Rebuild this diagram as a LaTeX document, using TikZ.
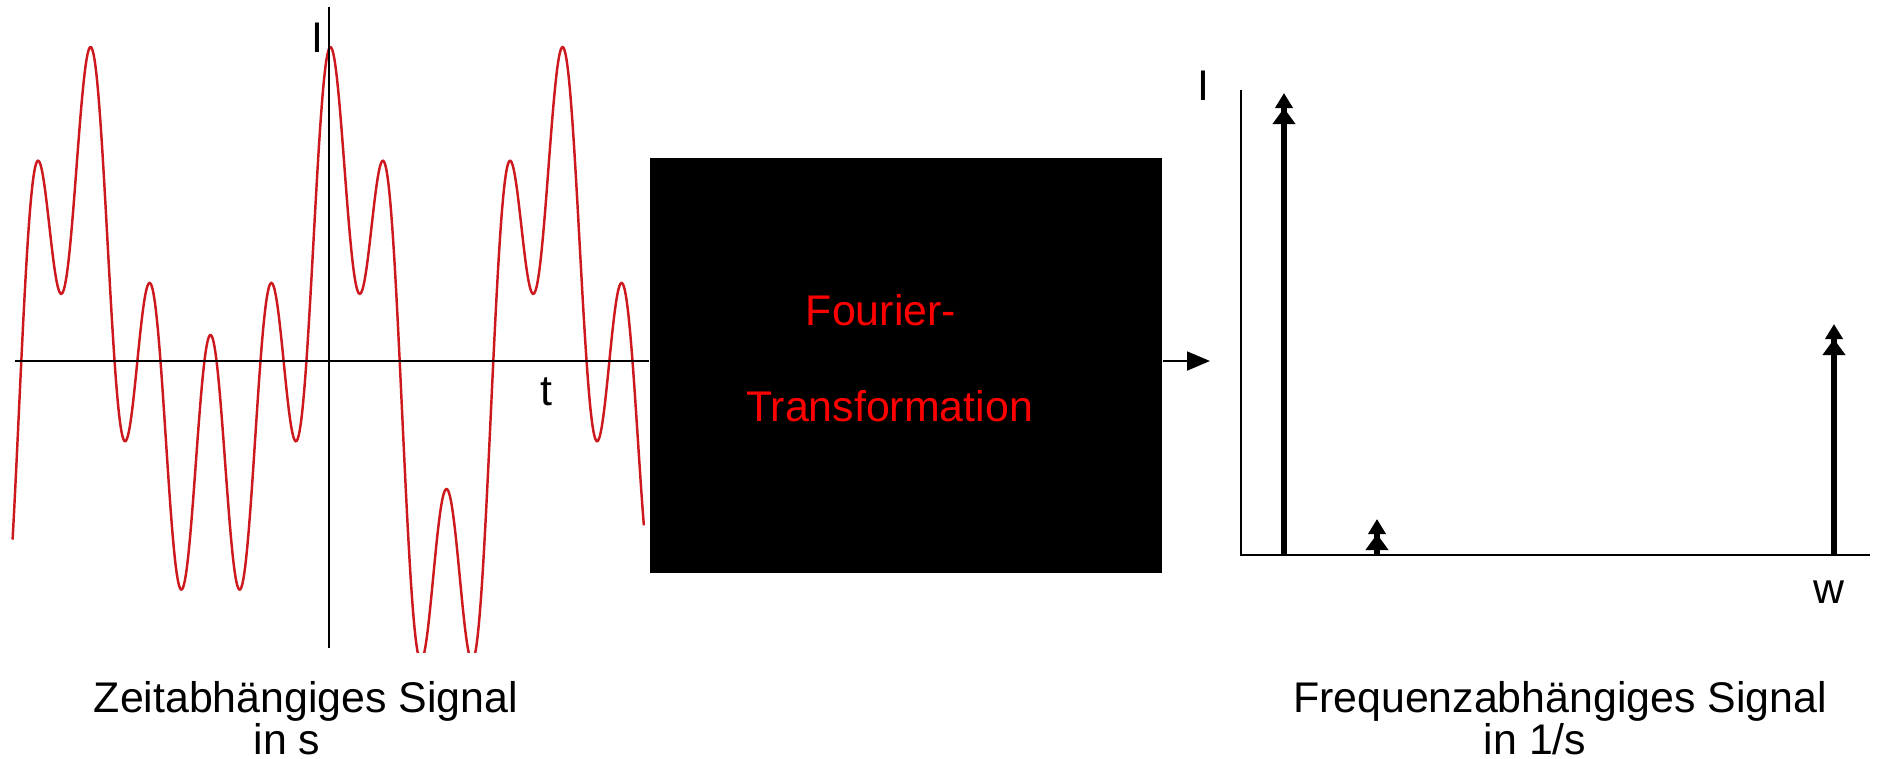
\documentclass[tikz,border=0pt]{standalone}
\usepackage{fontspec}
\setmainfont{Liberation Sans}
\usetikzlibrary{arrows.meta}
\definecolor{wavered}{RGB}{205,25,30}

\begin{document}
\begin{tikzpicture}[
  lbl/.style={font=\fontsize{12.2}{14}\selectfont, inner sep=0pt, anchor=base},
  axis/.style={line width=0.6pt},
  spike/.style={line width=1.6pt,
    -{Triangle[length=1.6mm,width=2.2mm]Triangle[length=1.5mm,width=1.7mm]}},
]
  \useasboundingbox (0,0) rectangle (18.84,-7.58);
  % time signal
  \coordinate (t0) at (0.15,-3.61);
  \coordinate (i0) at (3.293,-0.07);
  \coordinate (i1) at (3.293,-6.48);
  \begin{scope}
    \clip (0,0) rectangle (6.5,-6.52);
    \draw[wavered, line width=0.7pt] plot[domain=0.126:6.44, samples=700]
      (\x, {-3.61 - 1.81*cos(152.54*(\x-2.105)) + 0.77*cos(228.81*(\x-2.105))
            + 1.30*cos(610.17*(\x-2.105))});
  \end{scope}
  \draw[axis] (i1) -- (i0);
  \node[lbl] (ilab) at (3.17,-0.527) {I};
  \node[lbl] (tlab) at (5.46,-4.05) {t};

  % black box
  \node[fill=black, minimum width=5.12cm, minimum height=4.15cm,
        inner sep=0pt] (ft) at (9.06,-3.655) {};
  \node[lbl, text=red] (fourier) at (8.81,-3.25) {Fourier-};
  \node[lbl, text=red] (trafo) at (8.895,-4.21) {Transformation};
  \coordinate (fend) at (12.10,-3.61);
  \draw[axis] (t0) -- (t0 -| ft.west);
  \draw[line width=0.5pt, -{Triangle[length=2.3mm,width=1.9mm]}]
    (ft.east |- t0) -- (fend);

  % spectrum
  \coordinate (w0) at (12.41,-5.55);
  \coordinate (wtop) at (12.41,-0.90);
  \coordinate (wend) at (18.70,-5.55);
  \draw[axis] (wtop) -- (w0) -- (wend);
  \node[lbl] (ilab2) at (12.03,-1.00) {I};
  \node[lbl] (wlab) at (18.29,-6.03) {w};
  \foreach \x/\h in {12.84/0.93, 13.77/5.19, 18.34/3.24} {
    \draw[spike] (\x,-5.55) -- (\x,-\h);
  }

  % captions
  \node[lbl] (zeit) at (3.06,-7.12) {Zeitabhängiges Signal};
  \node[lbl] (zeits) at (2.87,-7.54) {in s};
  \node[lbl] (freq) at (15.60,-7.12) {Frequenzabhängiges Signal};
  \node[lbl] (freqs) at (15.35,-7.54) {in 1/s};
\end{tikzpicture}
\end{document}
